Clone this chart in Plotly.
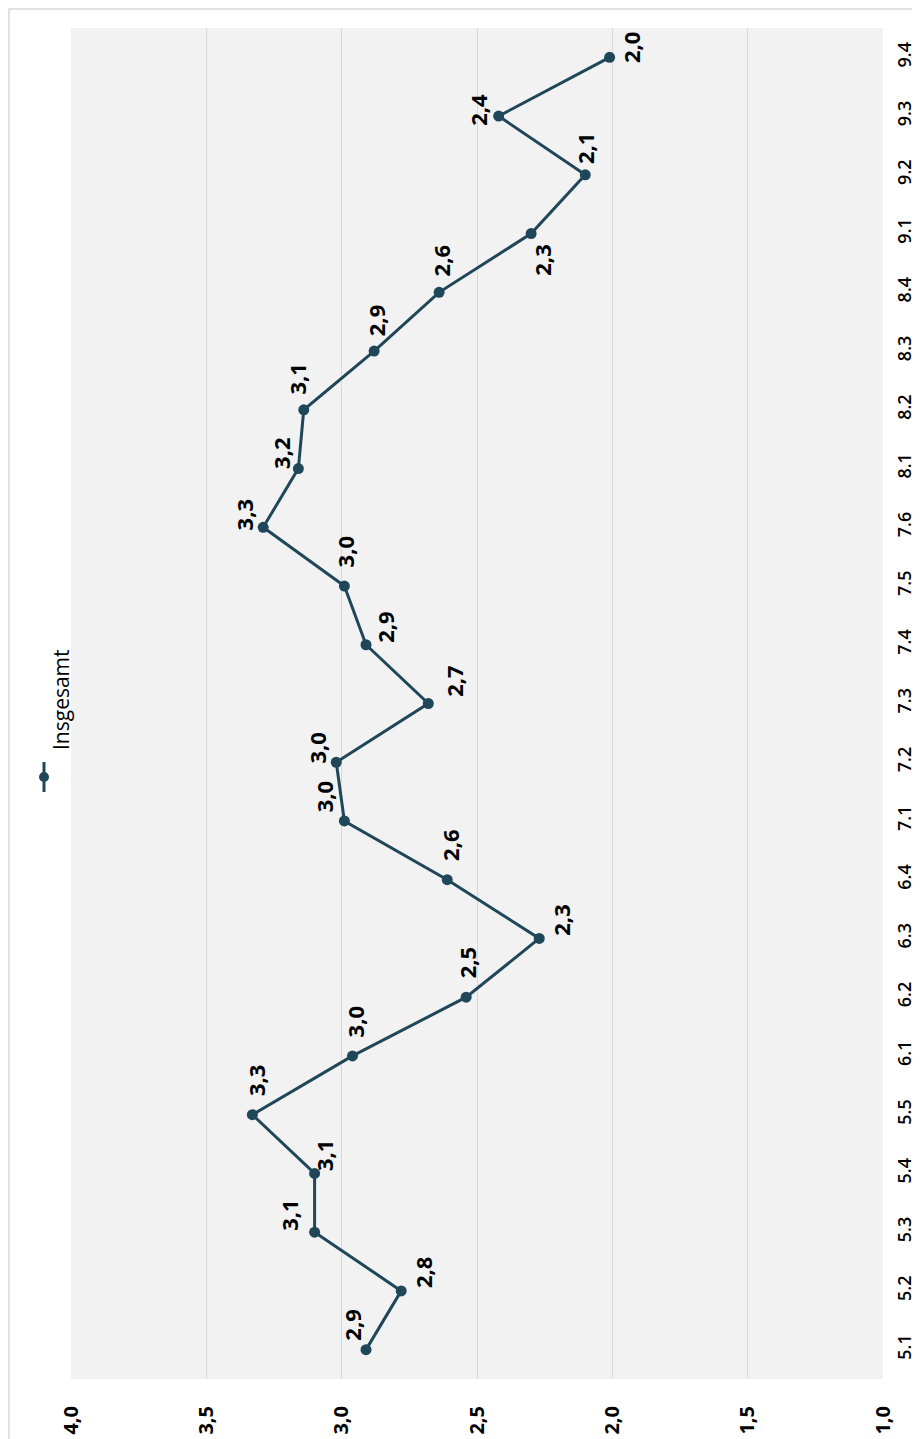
import plotly.graph_objects as go

categories = ["5.1", "5.2", "5.3", "5.4", "5.5", "6.1", "6.2", "6.3", "6.4",
              "7.1", "7.2", "7.3", "7.4", "7.5", "7.6", "8.1", "8.2", "8.3", "8.4",
              "9.1", "9.2", "9.3", "9.4"]
values = [2.91, 2.78, 3.10, 3.10, 3.33, 2.96, 2.54, 2.27, 2.61,
          2.99, 3.02, 2.68, 2.91, 2.99, 3.29, 3.16, 3.14, 2.88, 2.64,
          2.30, 2.10, 2.42, 2.01]
value_ticks = [4.0, 3.5, 3.0, 2.5, 2.0, 1.5, 1.0]
series_name = "Insgesamt"

# label offsets in pixels (xshift, yshift)
label_offsets = [(-14, 24), (22, 18), (-25, 17), (10, 18), (3, 34), (2, 34), (1, 34),
                 (22, 18), (2, 34), (-20, 24), (-19, 14), (25, 22), (19, 17), (1, 34),
                 (-19, 12), (-18, 15), (-7, 31), (2, 30), (2, 31), (10, -27), (0, 26),
                 (-21, 6), (22, 10)]

color = "#1f4759"
font = "Open Sans"

fig = go.Figure()
fig.add_trace(go.Scatter(
    x=values, y=categories, mode="lines+markers", name=series_name,
    line=dict(color=color, width=3), marker=dict(color=color, size=11),
    showlegend=False, cliponaxis=False,
))

for i, (v, (dx, dy)) in enumerate(zip(values, label_offsets)):
    fig.add_annotation(x=v, y=i, xref="x", yref="y", text=f"{v:.1f}".replace(".", ","),
                       showarrow=False, textangle=-90, xshift=dx, yshift=dy,
                       font=dict(family=font, size=22, color="#000000", weight="bold"))

W, H = 920, 1439
L, R, T, B = 63, 45, 20, 68
pw, ph = W - L - R, H - T - B
OFF = 8  # page body margin


def px(x):
    return (x - OFF - L) / pw


def py(y):
    return 1 - (y - OFF - T) / ph


# outer chart border
fig.add_shape(type="rect", xref="paper", yref="paper", x0=px(9), x1=px(940), y0=py(1460), y1=py(9),
              line=dict(color="#d9d9d9", width=1.5), fillcolor="rgba(0,0,0,0)", layer="below")

# custom rotated legend
fig.add_shape(type="line", xref="paper", yref="paper", x0=px(44), x1=px(44), y0=py(792), y1=py(762),
              line=dict(color=color, width=3))
fig.add_shape(type="circle", xref="paper", yref="paper", xsizemode="pixel", ysizemode="pixel",
              xanchor=px(44), yanchor=py(777), x0=-5, x1=5, y0=-5, y1=5,
              fillcolor=color, line=dict(color=color, width=0))
fig.add_annotation(x=px(45), y=py(700), xref="paper", yref="paper", text=series_name,
                   showarrow=False, textangle=-90,
                   font=dict(family=font, size=21, color="#000000"))

fig.update_layout(
    width=W, height=H,
    margin=dict(l=L, r=R, t=T, b=B, autoexpand=False),
    paper_bgcolor="white", plot_bgcolor="#f2f2f2",
    separators=",.",
    showlegend=False,
    font=dict(family=font, color="#000000"),
)
fig.update_xaxes(range=[4.0, 1.0], tickvals=value_ticks, tickformat=".1f", tickangle=-90,
                 showgrid=True, gridcolor="#d9d9d9", gridwidth=1, zeroline=False,
                 showline=False, ticks="", ticklabelstandoff=22, automargin=False,
                 tickfont=dict(family=font, size=20, color="#000000", weight="bold"))
fig.update_yaxes(type="category", categoryorder="array", categoryarray=categories,
                 range=[-0.5, len(categories) - 0.5], side="right", tickangle=-90,
                 showgrid=False, zeroline=False, showline=False, ticks="", automargin=False,
                 ticklabelstandoff=9,
                 tickfont=dict(family=font, size=18, color="#000000", weight=600))

fig.write_html("out.html")
